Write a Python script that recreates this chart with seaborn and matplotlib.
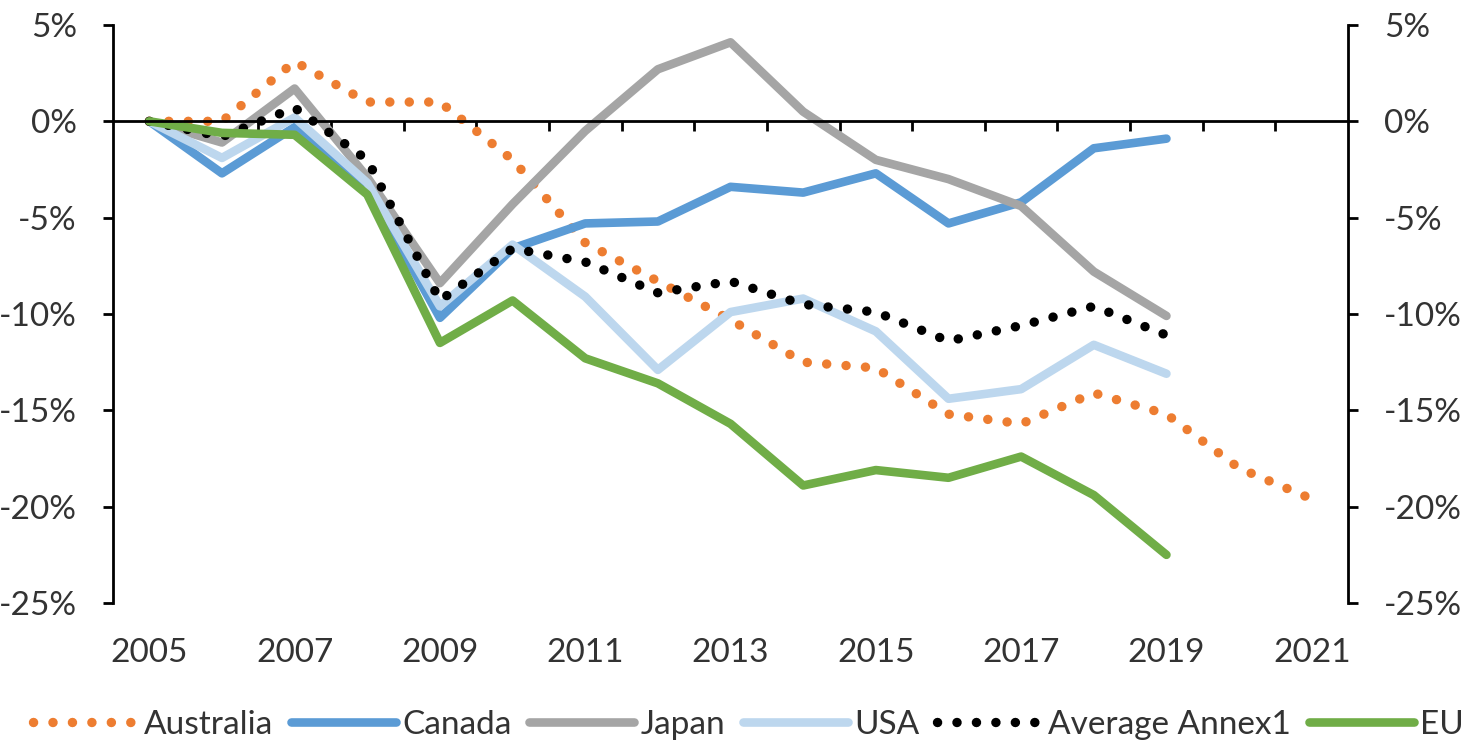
import numpy as np
import seaborn as sns
import matplotlib.pyplot as plt

# change vs 2005, in %
years = list(range(2005, 2022))
australia = [0, 0, 3.1, 1.0, 1.0, -2.0, -6.3, -8.3, -10.3, -12.5, -12.8, -15.2, -15.7, -14.1, -15.2, -18.0, -19.6]
canada = [0, -2.7, -0.3, -3.4, -10.2, -6.6, -5.3, -5.2, -3.4, -3.7, -2.7, -5.3, -4.2, -1.4, -0.9]
japan = [0, -1.1, 1.7, -2.9, -8.4, -4.3, -0.5, 2.7, 4.1, 0.5, -2.0, -3.0, -4.4, -7.8, -10.1]
usa = [0, -1.9, 0.2, -3.2, -9.6, -6.4, -9.1, -12.9, -9.9, -9.2, -10.9, -14.4, -13.9, -11.6, -13.1]
annex1 = [0, -0.8, 0.7, -2.0, -9.3, -6.6, -7.3, -8.9, -8.3, -9.5, -9.9, -11.4, -10.6, -9.6, -11.1]
eu = [0, -0.6, -0.7, -3.8, -11.5, -9.3, -12.3, -13.6, -15.7, -18.9, -18.1, -18.5, -17.4, -19.4, -22.5]

series = [
    ("Australia", australia, "#ED7D31", True),
    ("Canada", canada, "#5B9BD5", False),
    ("Japan", japan, "#A5A5A5", False),
    ("USA", usa, "#BDD7EE", False),
    ("Average Annex1", annex1, "black", True),
    ("EU", eu, "#70AD47", False),
]
y_ticks = list(range(-25, 6, 5))
year_labels = years[::2]

sns.set_style("white")
plt.rcParams['font.family'] = ['Lato', 'DejaVu Sans']
text_color = "#333333"
fs = 24

fig, ax = plt.subplots(figsize=(14.73, 7.43), dpi=100)
fig.subplots_adjust(left=0.0767, right=0.9152, top=0.9664, bottom=0.1884)

for name, vals, color, dotted in series:
    if dotted:
        kw = dict(linestyle=(0, (0.01, 2.05)), dash_capstyle="round", linewidth=6.8)
    else:
        kw = dict(linewidth=6.2, solid_capstyle="round", solid_joinstyle="round")
    sns.lineplot(x=years[:len(vals)], y=vals, color=color, label=name, ax=ax, **kw)

ax.set_xlim(2004.5, 2021.5)
ax.set_ylim(-25, 5)
ax.set_xlabel("")
ax.set_ylabel("")

# y axis on both sides
ax.set_yticks(y_ticks)
ax.set_yticklabels([f"{v}%" for v in y_ticks])
ax.tick_params(axis="y", direction="out", length=7, width=2, pad=19, labelsize=fs,
               left=True, right=True, labelleft=True, labelright=True,
               labelcolor=text_color, color="black")
ax.spines["top"].set_visible(False)
for s in ["left", "right", "bottom"]:
    ax.spines[s].set_visible(True)
    ax.spines[s].set_linewidth(2)
    ax.spines[s].set_color("black")

# horizontal axis crosses at 0, ticks between categories
ax.spines["bottom"].set_position(("data", 0))
ax.set_xticks(np.arange(2005.5, 2021, 1))
ax.tick_params(axis="x", direction="out", length=7, width=2, bottom=True,
               labelbottom=False, color="black")

# year labels at the bottom of the plot area
ax2 = ax.twiny()
ax2.set_xlim(ax.get_xlim())
ax2.xaxis.set_ticks_position("bottom")
ax2.set_xticks(year_labels)
ax2.set_xticklabels([str(y) for y in year_labels])
ax2.tick_params(axis="x", length=0, pad=25, labelsize=fs, labelcolor=text_color)
for s in ax2.spines.values():
    s.set_visible(False)

handles, labels = ax.get_legend_handles_labels()
if ax.get_legend() is not None:
    ax.get_legend().remove()
fig.legend(handles, labels, loc="lower center", bbox_to_anchor=(0.508, -0.005), ncol=6,
           frameon=False, fontsize=fs, handlelength=3.15, handletextpad=0.18,
           columnspacing=0.54, borderpad=0.2, borderaxespad=0, labelcolor=text_color)

fig.savefig("out.png", dpi=100)
